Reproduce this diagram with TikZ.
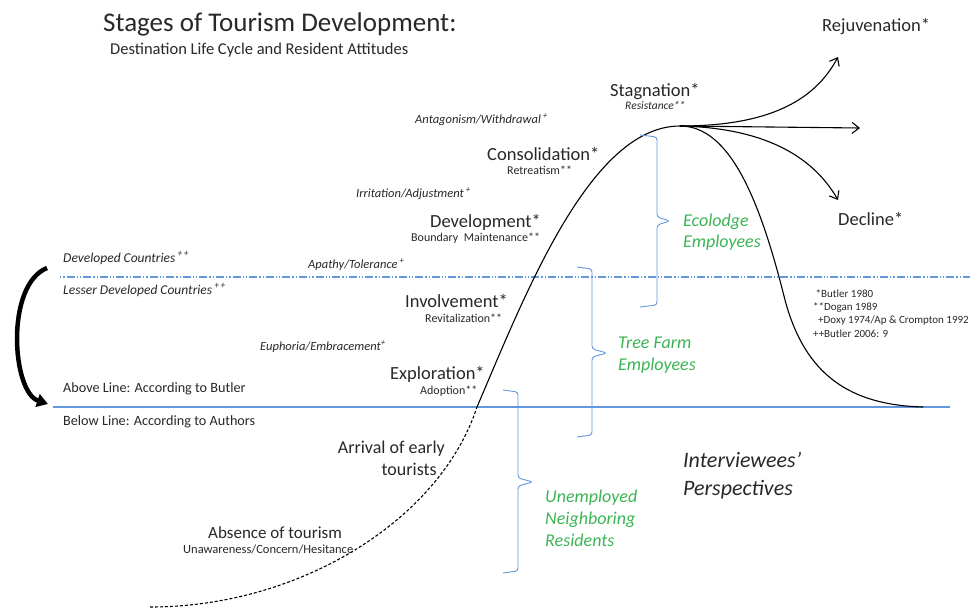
\documentclass[tikz,border=0pt]{standalone}
\usepackage{fontspec}
\setmainfont{Carlito}
\usetikzlibrary{arrows.meta}
\definecolor{txtgray}{RGB}{40,40,40}
\definecolor{lineblue}{RGB}{100,150,220}
\definecolor{leafgreen}{RGB}{60,180,85}
\newcommand{\fsz}[2]{\fontsize{#1}{#2}\selectfont}

\begin{document}
\begin{tikzpicture}[x=1pt,y=-1pt,
	lbl/.style={anchor=base west,inner sep=0pt,text=txtgray},
	stage/.style={lbl,font=\fsz{18.5}{22}},
	sub/.style={lbl,font=\fsz{12}{14}},
	attitude/.style={lbl,font=\fsz{12.5}{15}\itshape},
	note/.style={lbl,font=\fsz{14.2}{16}},
	group/.style={lbl,align=left,font=\fsz{18}{22}\itshape,text=leafgreen},
	bracket/.style={draw=lineblue,line width=0.9pt,rounded corners=3pt},
	lifecycle/.style={line width=1.1pt},
	route/.style={line width=1.1pt,-{Straight Barb[length=7pt,width=11pt]}}]
	
	\useasboundingbox (0,0) rectangle (970,610);
	
	% title
	\node[lbl,font=\fsz{27}{30}] (title) at (103,32) {Stages of Tourism Development:};
	\node[lbl,font=\fsz{16.5}{20}] (subtitle) at (110,55) {Destination Life Cycle and Resident Attitudes};
	
	% reference lines
	\draw[draw=lineblue,line width=1.3pt,dash pattern=on 1.3pt off 2pt on 1.3pt off 2pt on 8pt off 2pt] (60,277) -- (970,277);
	\draw[draw=lineblue,line width=1.3pt] (53,407) -- (950,407);
	
	% life cycle curve
	\coordinate (origin) at (150,607);
	\coordinate (butler) at (477,407);
	\coordinate (peak) at (680,126);
	\coordinate (fall) at (785,300);
	\coordinate (tail) at (923,407);
	\draw[lifecycle,dash pattern=on 3pt off 2pt] (origin) .. controls (300,607) and (440,520) .. (butler);
	\draw[lifecycle] (butler) .. controls (525,295) and (590,126) .. (peak)
		.. controls (730,126) and (760,200) .. (fall)
		.. controls (805,375) and (850,405) .. (tail);
	
	% futures after stagnation
	\coordinate (rejuv) at (838,57);
	\coordinate (level) at (860,128);
	\coordinate (decl) at (838,200);
	\draw[route] (peak) .. controls (770,126) and (815,100) .. (rejuv);
	\draw[route] (peak) -- (level);
	\draw[route] (peak) .. controls (770,128) and (815,160) .. (decl);
	
	% stages
	\node[stage] (rejuvenation) at (822,32) {Rejuvenation*};
	\node[stage] (decline) at (838,225) {Decline*};
	\node[stage] (stagnation) at (610,96) {Stagnation*};
	\node[sub,font=\fsz{11.5}{14}\itshape] (resistance) at (625,110) {Resistance**};
	\node[stage] (consolidation) at (487,160) {Consolidation*};
	\node[sub] (retreatism) at (507,174) {Retreatism**};
	\node[stage] (development) at (430,227) {Development*};
	\node[sub] (boundary) at (411,241) {Boundary\ \ Maintenance**};
	\node[stage] (involvement) at (405,307) {Involvement*};
	\node[sub] (revital) at (425,322) {Revitalization**};
	\node[stage] (exploration) at (390,379) {Exploration*};
	\node[sub] (adoption) at (420,394) {Adoption**};
	
	% resident attitudes
	\node[attitude] (antagonism) at (415,123) {Antagonism/Withdrawal\,\textsuperscript{+}};
	\node[attitude] (irritation) at (356,197) {Irritation/Adjustment\,\textsuperscript{+}};
	\node[attitude] (apathy) at (308,268) {Apathy/Tolerance\,\textsuperscript{+}};
	\node[attitude] (euphoria) at (260,350) {Euphoria/Embracement\textsuperscript{+}};
	
	% left notes
	\node[attitude,font=\fsz{13.5}{15}\itshape] (developed) at (63,262) {Developed Countries\,\textsuperscript{+\,+}};
	\node[attitude,font=\fsz{13.5}{15}\itshape] (lesser) at (63,294) {Lesser Developed Countries\,\textsuperscript{+\,+}};
	\node[note] (above) at (63,392) {Above Line: According to Butler};
	\node[note] (below) at (63,425) {Below Line: According to Authors};
	\draw[line width=4.5pt,-{Triangle[length=11pt,width=13pt]}] (47,268) .. controls (5,285) and (12,392) .. (48,404);
	
	% below the line
	\node[lbl,align=right,anchor=base east,font=\fsz{18}{22}] (arrival) at (445,475) {Arrival of early\\tourists\ \ \ };
	\node[lbl,font=\fsz{17}{20}] (absence) at (208,538) {Absence of tourism};
	\node[sub,font=\fsz{12.5}{14}] (unaware) at (183,553) {Unawareness/Concern/Hesitance};
	
	% interviewee groups
	\draw[bracket] (640,135) -- (657,137) -- (657,217) -- (670,221) -- (657,225) -- (657,305) -- (640,307);
	\draw[bracket] (577,267) -- (592,269) -- (592,349) -- (607,353) -- (592,357) -- (592,435) -- (577,437);
	\draw[bracket] (503,390) -- (518,392) -- (518,478) -- (533,482) -- (518,486) -- (518,571) -- (503,573);
	\node[group,font=\fsz{18}{21}\itshape] (ecolodge) at (683,247) {Ecolodge\\Employees};
	\node[group] (treefarm) at (618,370) {Tree Farm\\Employees};
	\node[group] (unemployed) at (545,546) {Unemployed\\Neighboring\\Residents};
	\node[lbl,align=left,font=\fsz{22}{28}\itshape] (perspectives) at (683,495) {Interviewees'\\Perspectives};
	
	% sources
	\node[sub,align=left,font=\fsz{11}{13.3}] (sources) at (813,337) {\ *Butler 1980\\**Dogan 1989\\\ \ +Doxy 1974/Ap \& Crompton 1992\\++Butler 2006: 9};
	
\end{tikzpicture}
\end{document}
